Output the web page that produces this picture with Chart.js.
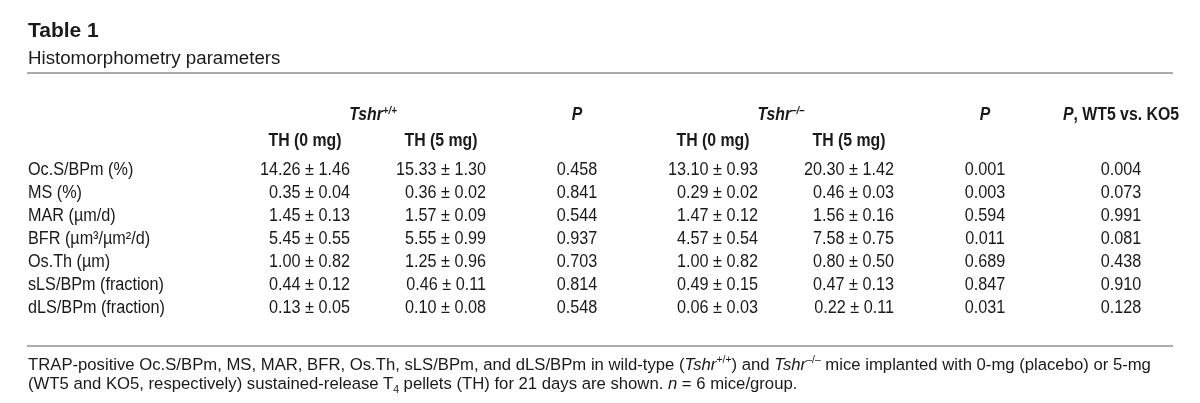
<!DOCTYPE html>
<html>
<head>
<meta charset="utf-8">
<script src="https://cdn.jsdelivr.net/npm/chart.js@4.4.1/dist/chart.umd.min.js"></script>
<style>
  body { margin: 0; background: #fff; width: 1200px; height: 403px; overflow: hidden;
         font-family: "Liberation Sans", Arial, sans-serif; color: #1a1a1a; }
  #title { position: absolute; left: 28px; top: 19px; font-size: 21px; font-weight: bold; line-height: 21px; }
  #subtitle { position: absolute; left: 28px; top: 48px; font-size: 18.7px; line-height: 19px; }
  .rule { position: absolute; left: 27px; width: 1146px; height: 2px; background: #ababab; }
  #note { position: absolute; left: 28px; top: 355px; font-size: 16.7px; line-height: 19px; white-space: nowrap; }
  #note sup, #note sub { font-size: 10.5px; line-height: 0; }
  #wrap { position: absolute; left: 0; top: 0; width: 1200px; height: 403px; }
</style>
</head>
<body>
<div id="wrap"><canvas id="myChart" width="1200" height="403"></canvas></div>
<div id="title">Table 1</div>
<div id="subtitle">Histomorphometry parameters</div>
<div class="rule" style="top:72px"></div>
<div class="rule" style="top:345px"></div>
<div id="note">TRAP-positive Oc.S/BPm, MS, MAR, BFR, Os.Th, sLS/BPm, and dLS/BPm in wild-type (<i>Tshr</i><sup>+/+</sup>) and <i>Tshr</i><sup>–/–</sup> mice implanted with 0-mg (placebo) or 5-mg<br>(WT5 and KO5, respectively) sustained-release T<sub>4</sub> pellets (TH) for 21 days are shown. <i>n</i> = 6 mice/group.</div>
<script>
// table values
const params = ['Oc.S/BPm (%)', 'MS (%)', 'MAR (µm/d)', 'BFR (µm³/µm²/d)', 'Os.Th (µm)', 'sLS/BPm (fraction)', 'dLS/BPm (fraction)']
const wt0Mean = [14.26, 0.35, 1.45, 5.45, 1.00, 0.44, 0.13]
const wt0Sem = [1.46, 0.04, 0.13, 0.55, 0.82, 0.12, 0.05]
const wt5Mean = [15.33, 0.36, 1.57, 5.55, 1.25, 0.46, 0.10]
const wt5Sem = [1.30, 0.02, 0.09, 0.99, 0.96, 0.11, 0.08]
const pWt = [0.458, 0.841, 0.544, 0.937, 0.703, 0.814, 0.548]
const ko0Mean = [13.10, 0.29, 1.47, 4.57, 1.00, 0.49, 0.06]
const ko0Sem = [0.93, 0.02, 0.12, 0.54, 0.82, 0.15, 0.03]
const ko5Mean = [20.30, 0.46, 1.56, 7.58, 0.80, 0.47, 0.22]
const ko5Sem = [1.42, 0.03, 0.16, 0.75, 0.50, 0.13, 0.11]
const pKo = [0.001, 0.003, 0.594, 0.011, 0.689, 0.847, 0.031]
const pWtKo = [0.004, 0.073, 0.991, 0.081, 0.438, 0.910, 0.128]
const doseLabels = ['TH (0 mg)', 'TH (5 mg)']
const columns = ['wt0', 'wt5', 'pWt', 'ko0', 'ko5', 'pKo', 'pWtKo']

// helvetica narrow look: liberation sans squeezed sideways
const FAM = "'Liberation Sans', Arial, sans-serif"
const INK = '#1a1a1a'
const BODY = { font: '18px ' + FAM, sx: 0.9 }
const LABEL = { font: '18px ' + FAM, sx: 0.9 }
const BOLD = { font: 'bold 18px ' + FAM, sx: 0.88 }
const BOLDIT = { font: 'italic bold 18px ' + FAM, sx: 0.88 }
const SUP = { font: 'italic bold 11px ' + FAM, sx: 0.88, dy: -4 }
const DOSE_ROW = 29   // px above first data row
const GROUP_ROW = 55

function pmColumn(key, mean, sem) {
  return { key: key, kind: 'pm', data: params.map((p, i) => ({ x: key, y: p, text: mean[i].toFixed(2) + ' ± ' + sem[i].toFixed(2) })) }
}
function pColumn(key, vals) {
  return { key: key, kind: 'p', data: params.map((p, i) => ({ x: key, y: p, text: vals[i].toFixed(3) })) }
}

const cols = [
  pmColumn('wt0', wt0Mean, wt0Sem),
  pmColumn('wt5', wt5Mean, wt5Sem),
  pColumn('pWt', pWt),
  pmColumn('ko0', ko0Mean, ko0Sem),
  pmColumn('ko5', ko5Mean, ko5Sem),
  pColumn('pKo', pKo),
  pColumn('pWtKo', pWtKo)
]

function textW(ctx, t, st) {
  ctx.font = st.font
  return ctx.measureText(t).width * st.sx
}
function drawText(ctx, t, x, y, st, align) {
  ctx.save()
  ctx.translate(x, y + (st.dy || 0))
  ctx.scale(st.sx, 1)
  ctx.font = st.font
  ctx.textAlign = align
  ctx.fillText(t, 0, 0)
  ctx.restore()
}
// list of text runs centered on cx
function drawRuns(ctx, runs, cx, y) {
  let total = 0
  runs.forEach(r => { total += textW(ctx, r.t, r.st) })
  let x = cx - total / 2
  runs.forEach(r => {
    drawText(ctx, r.t, x, y, r.st, 'left')
    x += textW(ctx, r.t, r.st)
  })
}

const cellText = {
  id: 'cellText',
  afterDatasetsDraw(chart) {
    const ctx = chart.ctx
    const xs = chart.scales.x
    const ys = chart.scales.y
    ctx.save()
    ctx.fillStyle = INK
    ctx.textBaseline = 'middle'

    // row labels on the y scale
    params.forEach((p, i) => drawText(ctx, p, ys.left, ys.getPixelForValue(i), LABEL, 'left'))

    chart.data.datasets.forEach((ds, di) => {
      const meta = chart.getDatasetMeta(di)
      let maxW = 0
      ds.data.forEach(d => { maxW = Math.max(maxW, textW(ctx, d.text, BODY)) })
      meta.data.forEach((el, i) => {
        if (ds.kind === 'pm') drawText(ctx, ds.data[i].text, el.x + maxW / 2, el.y, BODY, 'right')
        else drawText(ctx, ds.data[i].text, el.x, el.y, BODY, 'center')
      })
    })

    // header rows
    const y0 = ys.getPixelForValue(0)
    const yDose = y0 - DOSE_ROW
    const yGroup = y0 - GROUP_ROW
    const cx = k => xs.getPixelForValue(columns.indexOf(k))
    ;['wt0', 'wt5'].forEach((k, i) => drawText(ctx, doseLabels[i], cx(k), yDose, BOLD, 'center'))
    ;['ko0', 'ko5'].forEach((k, i) => drawText(ctx, doseLabels[i], cx(k), yDose, BOLD, 'center'))

    drawRuns(ctx, [{ t: 'Tshr', st: BOLDIT }, { t: '+/+', st: SUP }], (cx('wt0') + cx('wt5')) / 2, yGroup)
    drawRuns(ctx, [{ t: 'Tshr', st: BOLDIT }, { t: '–/–', st: SUP }], (cx('ko0') + cx('ko5')) / 2, yGroup)
    drawRuns(ctx, [{ t: 'P', st: BOLDIT }], cx('pWt'), yGroup)
    drawRuns(ctx, [{ t: 'P', st: BOLDIT }], cx('pKo'), yGroup)
    drawRuns(ctx, [{ t: 'P', st: BOLDIT }, { t: ', WT5 vs. KO5', st: BOLD }], cx('pWtKo'), yGroup)
    ctx.restore()
  }
}

const ctx = document.getElementById('myChart')

new Chart(ctx, {
  type: 'scatter',
  data: {
    datasets: cols.map(c => ({
      label: c.key,
      kind: c.kind,
      data: c.data,
      pointRadius: 0,
      showLine: false
    }))
  },
  options: {
    responsive: false,
    animation: false,
    events: [],
    layout: { padding: { top: 158.5, bottom: 83.5, left: 28, right: 11 } },
    plugins: { legend: { display: false }, tooltip: { enabled: false } },
    scales: {
      x: {
        type: 'category',
        labels: columns,
        offset: true,
        display: false
      },
      y: {
        type: 'category',
        labels: params,
        offset: true,
        grid: { display: false },
        border: { display: false },
        ticks: { display: false },
        afterFit: s => { s.width = 209 }
      }
    }
  },
  plugins: [cellText]
})
</script>
</body>
</html>
